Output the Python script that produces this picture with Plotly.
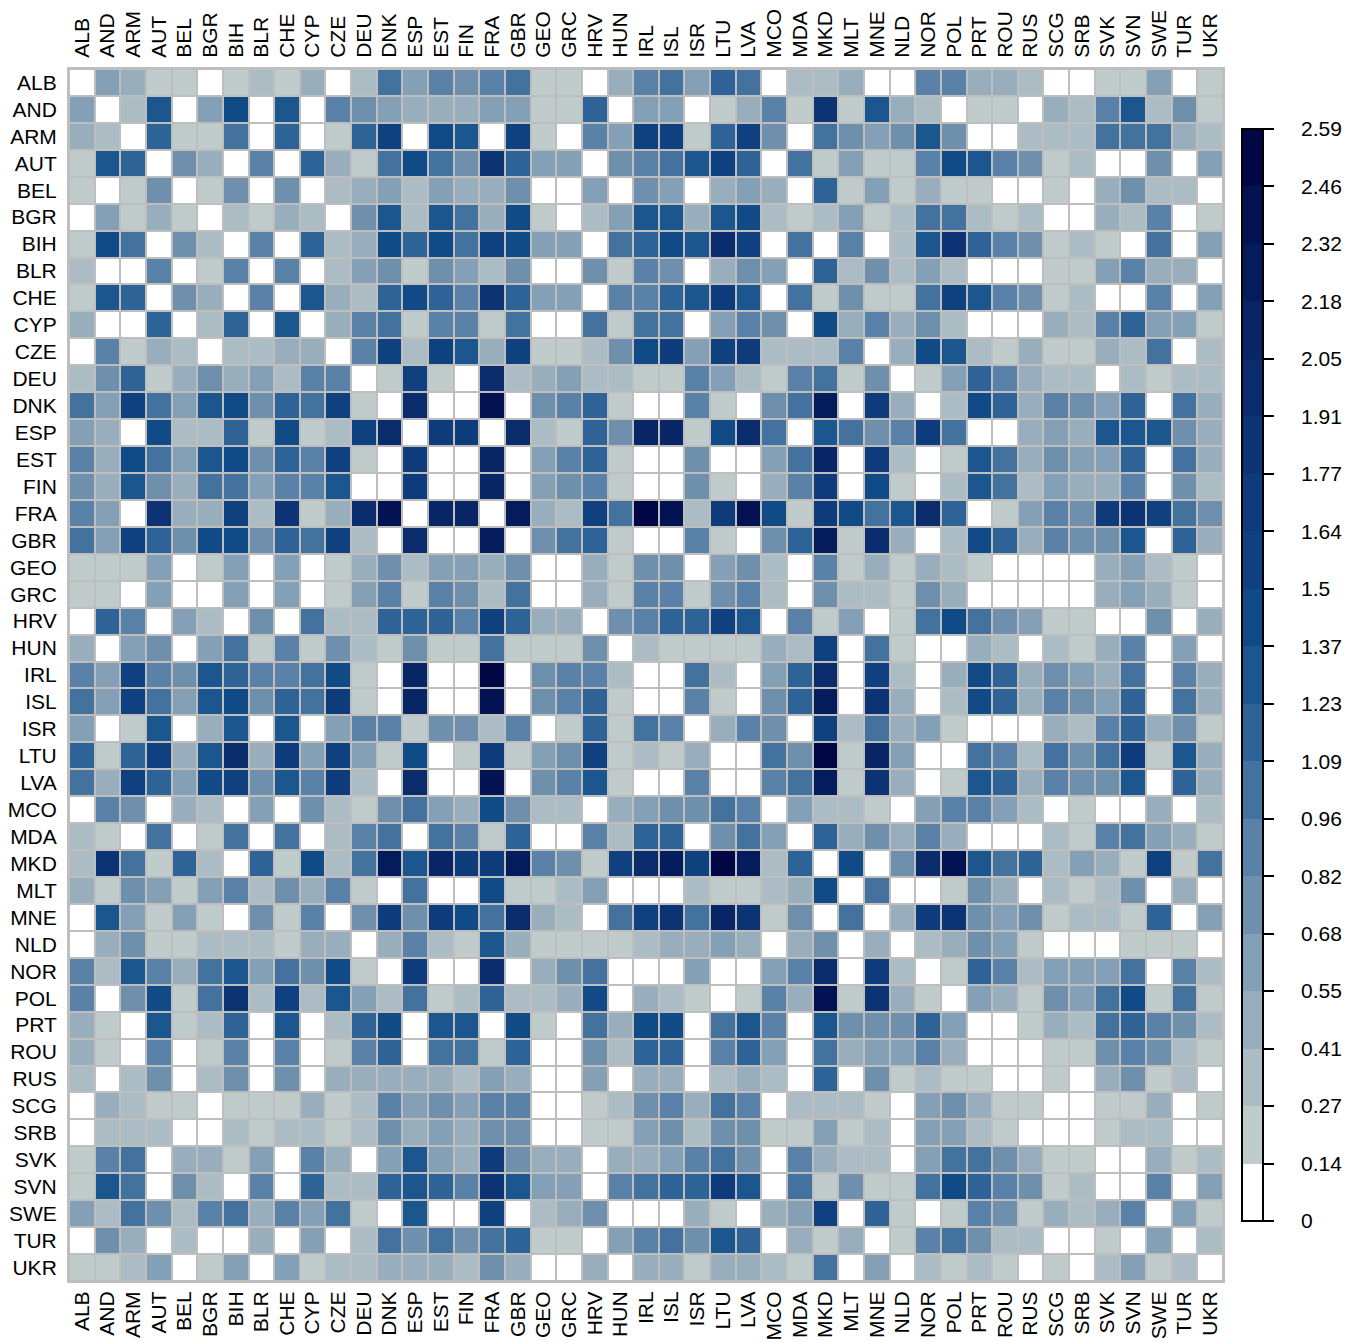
import plotly.graph_objects as go

countries = ["ALB","AND","ARM","AUT","BEL","BGR","BIH","BLR","CHE","CYP","CZE","DEU","DNK","ESP","EST","FIN","FRA","GBR","GEO","GRC","HRV","HUN","IRL","ISL","ISR","LTU","LVA","MCO","MDA","MKD","MLT","MNE","NLD","NOR","POL","PRT","ROU","RUS","SCG","SRB","SVK","SVN","SWE","TUR","UKR"]

# Colour-bin index of every cell (upper triangle incl. diagonal; matrix is symmetric)
ALB = [0,4,3,1,1,0,1,2,1,3,0,2,7,4,6,5,6,7,1,1,0,3,6,7,4,8,7,0,2,2,3,0,0,6,6,3,3,2,0,0,1,1,4,0,1]
AND = [0,2,9,0,4,10,0,9,0,6,5,4,3,3,3,4,4,1,1,8,0,4,4,0,1,3,6,1,13,1,9,3,2,0,1,1,0,3,2,6,9,2,5,1]
ARM = [0,8,1,1,7,0,8,0,1,8,11,0,10,9,0,11,1,0,6,4,11,11,1,8,11,5,0,7,5,4,5,9,5,0,0,2,2,2,7,7,7,3,2]
AUT = [0,5,3,0,6,0,8,3,1,7,10,7,5,13,8,4,4,0,5,6,7,9,11,8,0,7,1,4,1,1,6,10,9,6,5,1,2,0,0,5,0,4]
BEL = [0,1,5,0,5,0,2,3,4,2,4,3,3,5,0,0,4,0,5,4,0,3,4,3,0,8,1,4,1,3,1,1,0,0,1,0,3,5,2,2,0]
BGR = [0,2,1,3,2,0,5,9,2,9,7,3,10,1,0,2,4,9,9,3,9,10,2,1,2,4,1,2,7,7,2,1,2,0,0,3,2,6,0,1]
BIH = [0,6,0,8,2,3,10,8,10,7,11,10,4,4,0,7,8,10,9,14,11,0,7,0,6,0,2,9,13,8,6,5,1,2,1,0,7,0,4]
BLR = [0,6,0,2,4,5,1,5,4,2,5,0,0,5,1,6,5,0,3,5,4,0,8,2,5,2,4,2,0,0,0,1,1,4,6,3,3,0]
CHE = [0,9,3,2,8,10,8,6,13,8,4,4,0,6,6,8,9,12,9,0,7,1,5,1,1,7,11,9,6,5,1,2,0,0,6,0,4]
CYP = [0,3,6,7,1,6,6,1,7,0,0,7,1,7,7,0,4,6,5,0,10,3,6,3,5,2,0,0,0,3,2,6,8,4,4,1]
CZE = [0,6,11,2,11,9,3,11,1,1,2,5,10,12,4,11,12,2,2,2,6,0,3,10,9,2,1,3,1,1,3,2,7,0,2]
DEU = [0,1,11,1,0,14,2,3,4,2,2,1,1,6,4,2,1,6,7,1,5,0,1,4,8,6,3,2,2,0,2,1,2,2]
DNK = [0,14,0,0,17,0,5,6,8,1,0,0,6,1,0,5,7,16,0,12,3,0,2,10,8,3,6,5,4,8,0,7,3]
ESP = [0,12,12,0,14,2,1,8,5,15,15,1,10,14,7,0,9,7,5,6,12,7,0,0,3,4,3,9,9,9,5,3]
EST = [0,0,15,0,4,6,8,1,0,0,5,0,0,4,7,15,0,12,2,0,1,9,7,3,5,4,4,8,0,7,3]
FIN = [0,15,0,4,5,6,1,0,0,5,1,0,3,6,12,0,10,1,0,2,9,7,2,4,3,3,6,0,5,2]
FRA = [0,16,3,2,11,7,18,17,2,12,17,10,1,12,10,7,9,14,8,0,1,4,6,5,12,13,11,7,5]
GBR = [0,5,7,8,1,0,0,6,1,0,5,8,16,1,14,3,0,2,10,8,3,6,5,5,9,0,8,3]
GEO = [0,0,3,1,5,5,0,4,5,2,0,6,1,3,1,3,2,1,0,0,0,0,3,4,2,1,0]
GRC = [0,3,1,6,6,1,5,6,2,0,5,2,2,1,5,3,0,0,0,0,0,3,4,3,1,0]
HRV = [0,5,6,8,8,11,9,0,6,1,4,0,1,7,10,7,5,4,1,1,0,0,5,0,3]
HUN = [0,2,1,1,1,1,3,2,11,0,7,1,0,0,3,2,0,2,1,3,6,0,4,0]
IRL = [0,0,7,2,0,4,8,14,0,11,2,0,3,10,8,3,5,4,3,7,0,6,3]
ISL = [0,6,1,0,5,8,16,0,13,3,0,2,10,8,3,6,5,4,8,0,7,3]
ISR = [0,3,6,5,0,11,2,7,3,4,1,0,0,0,3,2,6,8,3,5,1]
LTU = [0,0,7,5,18,1,15,4,0,0,7,6,2,7,5,7,12,1,9,3]
LVA = [0,6,7,16,1,13,3,0,1,9,8,3,6,5,5,9,0,8,3]
MCO = [0,4,2,2,1,0,4,6,6,4,2,0,1,0,0,3,0,2]
MDA = [0,8,3,5,3,6,3,0,0,0,2,1,6,7,4,3,1]
MKD = [0,10,0,5,14,17,9,7,8,2,4,3,1,11,1,7]
MLT = [0,7,0,0,1,5,3,0,2,1,2,5,0,3,0]
MNE = [0,3,12,13,5,4,5,1,2,2,1,8,0,4]
NLD = [0,2,3,5,4,1,0,0,0,1,1,1,0]
NOR = [0,1,8,6,2,4,4,4,7,0,6,2]
POL = [0,4,3,1,5,4,7,10,1,7,1]
PRT = [0,0,1,3,2,7,8,6,5,2]
ROU = [0,0,1,1,5,6,5,2,1]
RUS = [0,1,0,3,5,1,2,0]
SCG = [0,0,1,1,3,0,1]
SRB = [0,1,2,2,0,0]
SVK = [0,0,3,1,2]
SVN = [0,6,0,4]
SWE = [0,4,1]
TUR = [0,2]
UKR = [0]

upper_rows = [ALB,AND,ARM,AUT,BEL,BGR,BIH,BLR,CHE,CYP,CZE,DEU,DNK,ESP,EST,FIN,FRA,GBR,GEO,GRC,HRV,HUN,IRL,ISL,ISR,LTU,LVA,MCO,MDA,MKD,MLT,MNE,NLD,NOR,POL,PRT,ROU,RUS,SCG,SRB,SVK,SVN,SWE,TUR,UKR]

tick_labels = ["0","0.14","0.27","0.41","0.55","0.68","0.82","0.96","1.09","1.23","1.37","1.5","1.64","1.77","1.91","2.05","2.18","2.32","2.46","2.59"]
bin_colors = ["#FFFFFF","#C0CCCC","#ABBCC4","#98AEBD","#83A0B6","#6E90AD","#5A82A8","#44729F","#2E6397","#1B568E","#104A87","#0F4180","#0E3B7B","#0C3373","#0A2B6C","#082566","#051C5C","#031253","#010644"]

zmax = 2.59
bin_width = zmax / len(bin_colors)
n = len(countries)
matrix = [[0.0] * n for _ in range(n)]
for i, row in enumerate(upper_rows):
    for k, level in enumerate(row):
        j = i + k
        matrix[i][j] = matrix[j][i] = (level + 0.5) * bin_width

colorscale = []
for k, c in enumerate(bin_colors):
    colorscale.append([k / len(bin_colors), c])
    colorscale.append([(k + 1) / len(bin_colors), c])

tick_values = [k * bin_width for k in range(len(tick_labels))]
PAD = "\u00a0" * 4

FONT = "Liberation Sans"
FS = 21
GRID = "#BEBEBE"

fig = go.Figure()
fig.add_trace(go.Heatmap(
    z=matrix, x=countries, y=countries, zmin=0, zmax=zmax, colorscale=colorscale,
    xgap=2, ygap=2,
    colorbar=dict(
        thicknessmode="pixels", thickness=21, lenmode="pixels", len=1092,
        x=1.0165, xanchor="left", xpad=0, y=0.5, yanchor="middle", ypad=0,
        tickmode="array", tickvals=tick_values, ticktext=[PAD + t for t in tick_labels],
        ticks="outside", ticklen=10, tickwidth=2, tickcolor="black",
        outlinecolor="black", outlinewidth=2, borderwidth=0,
        tickfont=dict(family=FONT, size=FS, color="black"),
    ),
))
fig.add_trace(go.Scatter(x=countries, y=countries, xaxis="x2", mode="markers",
                         marker=dict(opacity=0), hoverinfo="skip", showlegend=False))

axis_common = dict(
    type="category", categoryorder="array", categoryarray=countries,
    tickmode="array", tickvals=countries, ticktext=countries,
    tickfont=dict(family=FONT, size=FS, color="black"),
    showgrid=False, zeroline=False, ticks="",
    showline=True, linecolor=GRID, linewidth=2, mirror=True,
)
x_range = [-0.5, n - 0.5]
fig.update_layout(
    width=1362, height=1343,
    margin=dict(l=69, r=139, t=69, b=62, autoexpand=False),
    paper_bgcolor="white", plot_bgcolor=GRID, showlegend=False,
    xaxis=dict(side="bottom", tickangle=-90, ticklabelstandoff=0, range=x_range, **axis_common),
    xaxis2=dict(side="top", overlaying="x", tickangle=-90, ticklabelstandoff=5, range=x_range, **axis_common),
    yaxis=dict(range=x_range[::-1], ticklabelstandoff=6, **axis_common),
)
fig.write_html("out.html", post_script="document.body.style.margin='0';",
               config=dict(displayModeBar=False))
